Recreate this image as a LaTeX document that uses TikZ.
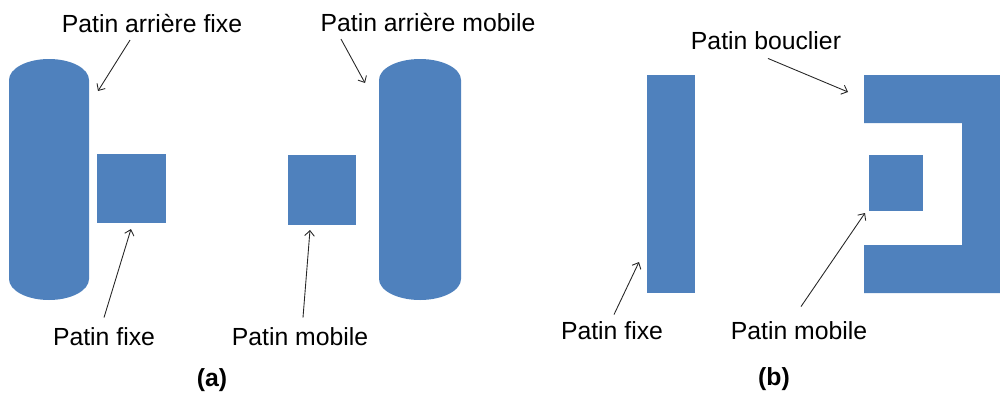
\documentclass[tikz,border=0pt]{standalone}
\usepackage{fontspec}
\setmainfont{Liberation Sans}
\usetikzlibrary{arrows.meta}
\definecolor{padblue}{HTML}{4F81BD}

\begin{document}
\begin{tikzpicture}[x=0.02cm, y=-0.02cm,
    pad/.style ={fill=padblue},
    tag/.style ={font=\fontsize{14.1}{17}\selectfont, inner sep=0pt},
    subfig/.style ={font=\fontsize{14.1}{17}\selectfont\bfseries, inner sep=0pt},
    pointer/.style ={draw=black!85, line width=0.5pt, -{Straight Barb[length=3pt,width=5.5pt]}}]
   \useasboundingbox (0,0) rectangle (1000,396);

   % (a)
   \fill[pad] (9,80) arc[start angle=180, end angle=360, x radius=40, y radius=21]
      -- (89,279) arc[start angle=0, end angle=180, x radius=40, y radius=21] -- cycle;
   \fill[pad] (97,154) rectangle (166,223);
   \fill[pad] (288,155) rectangle (356,225);
   \fill[pad] (379,80) arc[start angle=180, end angle=360, x radius=41, y radius=21]
      -- (461,279) arc[start angle=0, end angle=180, x radius=41, y radius=21] -- cycle;

   \node[tag] (RF) at (152,23)  {Patin arrière fixe};
   \node[tag] (RM) at (428,22)  {Patin arrière mobile};
   \node[tag] (F)  at (104,337) {Patin fixe};
   \node[tag] (M)  at (300,337) {Patin mobile};
   \node[subfig] (A) at (212,380) {(a)};

   \coordinate (RFtip) at (98,91);
   \coordinate (RMtip) at (365,83);
   \coordinate (Ftip)  at (131,229);
   \coordinate (Mtip)  at (310,230);

   \draw[pointer] ([xshift=-0.44cm, yshift=-0.15cm]RF.south) to (RFtip);
   \draw[pointer] ([xshift=-1.74cm, yshift=-0.15cm]RM.south) to (RMtip);
   \draw[pointer] ([yshift=0.2cm]F.north) to (Ftip);
   \draw[pointer] ([xshift=0.06cm, yshift=0.2cm]M.north) to (Mtip);

   % (b)
   \fill[pad] (647,75) rectangle (695,293);
   \fill[pad] (864,75) -- (1000,75) -- (1000,293) -- (864,293) -- (864,245)
      -- (962,245) -- (962,123) -- (864,123) -- cycle;
   \fill[pad] (869,155) rectangle (923,211);

   \node[tag] (S)  at (766,41)  {Patin bouclier};
   \node[tag] (F2) at (612,331) {Patin fixe};
   \node[tag] (M2) at (799,331) {Patin mobile};
   \node[subfig] (B) at (774,379) {(b)};

   \coordinate (Stip)  at (848,92);
   \coordinate (F2tip) at (639,262);
   \coordinate (M2tip) at (865,213);

   \draw[pointer] ([xshift=0.04cm, yshift=-0.16cm]S.south) to (Stip);
   \draw[pointer] ([xshift=0.04cm, yshift=0.14cm]F2.north) to (F2tip);
   \draw[pointer] ([xshift=0.04cm, yshift=0.3cm]M2.north) to (M2tip);
 \end{tikzpicture}
\end{document}
